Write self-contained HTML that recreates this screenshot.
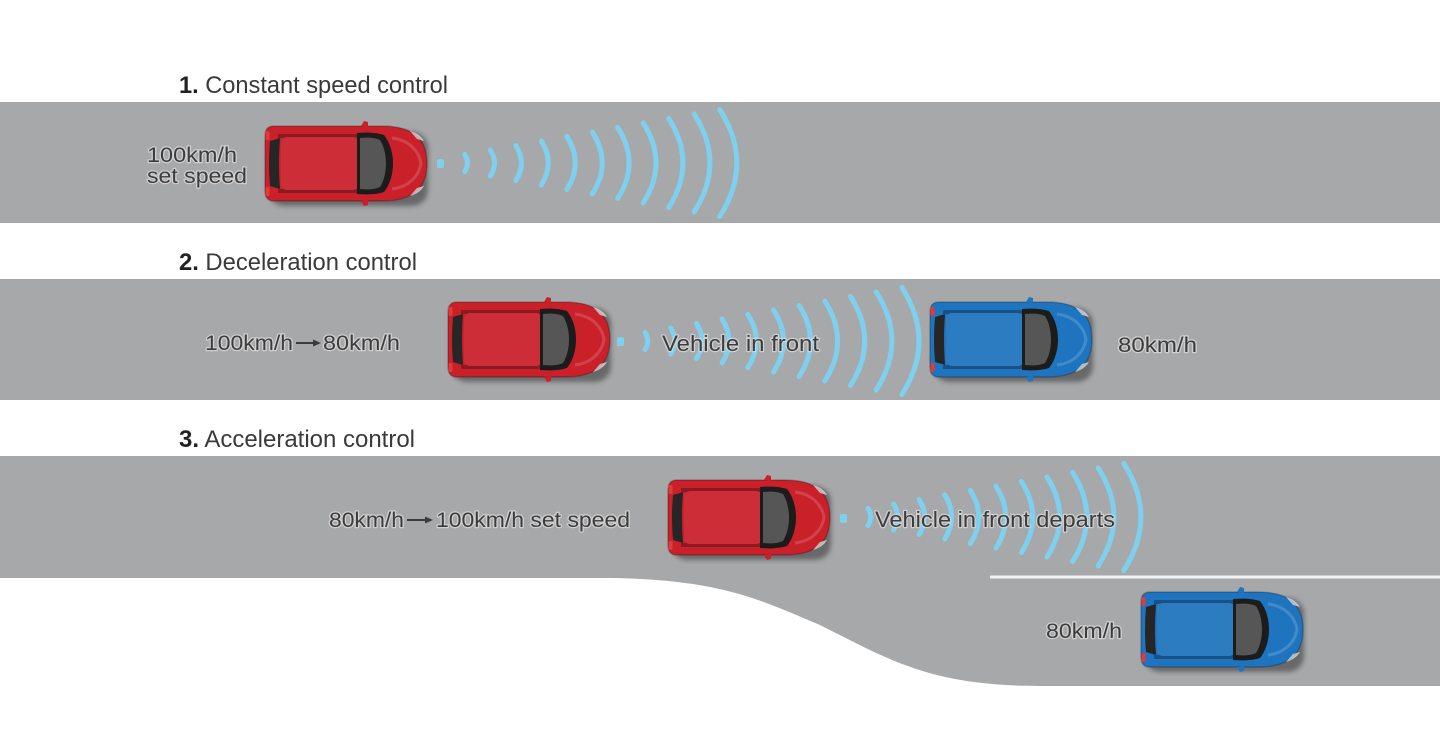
<!DOCTYPE html>
<html>
<head>
<meta charset="utf-8">
<style>
  html,body{margin:0;padding:0;background:#fff;}
  svg{display:block;}
  text{font-family:"Liberation Sans",Arial,sans-serif;}
  .h{font-size:24px;fill:#3a3a3a;}
  .l{fill:#3c3c3c;stroke:#dcdcdc;stroke-width:2.4px;stroke-opacity:.75;paint-order:stroke;stroke-linejoin:round;}
  .w{fill:none;stroke:#7fd0ef;stroke-width:5;stroke-linecap:round;}
</style>
</head>
<body>
<svg width="1440" height="745" viewBox="0 0 1440 745" xmlns="http://www.w3.org/2000/svg">
  <defs>
    <filter id="blur" x="-20%" y="-20%" width="140%" height="140%"><feGaussianBlur stdDeviation="2.5"/></filter>
    <g id="car">
      <rect x="4" y="7" width="160" height="74" rx="16" fill="#1a1a1a" opacity=".45" filter="url(#blur)"/>
      <path d="M10,1 H118 C148,1 163,13 163,38.5 C163,64 148,76 118,76 H10 Q1,76 1,66 V11 Q1,1 10,1 Z" fill="currentColor"/>
      <path d="M10,1 H118 C148,1 163,13 163,38.5 C163,64 148,76 118,76 H10 Q1,76 1,66 V11 Q1,1 10,1 Z" fill="none" stroke="#000" stroke-opacity=".22" stroke-width="1.5"/>
      <path d="M6,16 Q4,38.5 6,61 L16,64 Q14,38.5 16,13 Z" fill="#262626"/>
      <rect x="14" y="9" width="82" height="4" fill="#111" opacity=".35"/>
      <rect x="14" y="64" width="82" height="4" fill="#111" opacity=".35"/>
      <rect x="17" y="12" width="78" height="53" rx="6" fill="currentColor"/>
      <rect x="17" y="12" width="78" height="53" rx="6" fill="#fff" opacity=".06"/>
      <path d="M93,8 C104,7 114,8 120,10 C132,25 132,52 120,67 C114,69 104,70 93,69 Z" fill="#1c1c1c"/>
      <path d="M96,13 C105,12 112,13 116,15 C124,28 124,49 116,62 C112,64 105,65 96,64 Z" fill="#565656"/>
      <path d="M128,13 C145,15 155,26 157,38.5 C155,51 145,62 128,64" fill="none" stroke="#fff" stroke-opacity=".16" stroke-width="3"/>
      <path d="M97,1 L100,-4 L104,-3 L104,2 Z" fill="currentColor"/>
      <path d="M97,76 L100,81 L104,80 L104,75 Z" fill="currentColor"/>
      <path d="M146,6 Q156,9 160,16 L153,14 Z" fill="#e6e6e6" opacity=".7"/>
      <path d="M146,71 Q156,68 160,61 L153,63 Z" fill="#e6e6e6" opacity=".7"/>
      <rect x="1.5" y="6" width="4" height="9" rx="1.5" fill="#e03a3a"/>
      <rect x="1.5" y="62" width="4" height="9" rx="1.5" fill="#e03a3a"/>
    </g>
    <path id="a1" class="w" d="M0,-8.5Q5.4,0 0,8.5"/>
    <path id="a2" class="w" d="M0,-13Q8.4,0 0,13"/>
    <path id="a3" class="w" d="M0,-17.5Q11.2,0 0,17.5"/>
    <path id="a4" class="w" d="M0,-22Q14,0 0,22"/>
    <path id="a5" class="w" d="M0,-26.5Q17,0 0,26.5"/>
    <path id="a6" class="w" d="M0,-31Q19.8,0 0,31"/>
    <path id="a7" class="w" d="M0,-35.5Q22.8,0 0,35.5"/>
    <path id="a8" class="w" d="M0,-40Q25.6,0 0,40"/>
    <path id="a9" class="w" d="M0,-44.5Q28.4,0 0,44.5"/>
    <path id="a10" class="w" d="M0,-49Q31.4,0 0,49"/>
    <path id="a11" class="w" d="M0,-53.5Q34.2,0 0,53.5"/>
  </defs>

  <!-- Roads -->
  <rect x="0" y="102" width="1440" height="121" fill="#a7a8aa"/>
  <rect x="0" y="279" width="1440" height="121" fill="#a7a8aa"/>
  <path d="M0,456 H1440 V686 H1040 C930,686 890,660 820,625 C760,600 720,578 600,578 H0 Z" fill="#a7a8aa"/>
  <rect x="990" y="575.5" width="450" height="3" fill="#f2f2f2"/>

  <!-- Headings -->
  <text class="h" x="179" y="93" textLength="269" lengthAdjust="spacingAndGlyphs"><tspan font-weight="bold" fill="#222">1.</tspan> Constant speed control</text>
  <text class="h" x="179" y="270" textLength="238" lengthAdjust="spacingAndGlyphs"><tspan font-weight="bold" fill="#222">2.</tspan> Deceleration control</text>
  <text class="h" x="179" y="447" textLength="236" lengthAdjust="spacingAndGlyphs"><tspan font-weight="bold" fill="#222">3.</tspan> Acceleration control</text>

  <!-- Road 1 waves -->
  <rect x="437" y="159" width="7" height="9" rx="2" fill="#7fd0ef"/>
  <use href="#a1" x="464.8" y="163"/>
  <use href="#a2" x="490.3" y="163"/>
  <use href="#a3" x="515.8" y="163"/>
  <use href="#a4" x="541.3" y="163"/>
  <use href="#a5" x="566.8" y="163"/>
  <use href="#a6" x="592.3" y="163"/>
  <use href="#a7" x="617.7" y="163"/>
  <use href="#a8" x="643.2" y="163"/>
  <use href="#a9" x="668.7" y="163"/>
  <use href="#a10" x="694.2" y="163"/>
  <use href="#a11" x="719.7" y="163"/>

  <!-- Road 2 waves -->
  <rect x="617" y="337" width="7" height="9" rx="2" fill="#7fd0ef"/>
  <use href="#a1" x="645.1" y="341"/>
  <use href="#a2" x="670.7" y="341"/>
  <use href="#a3" x="696.4" y="341"/>
  <use href="#a4" x="722.1" y="341"/>
  <use href="#a5" x="747.8" y="341"/>
  <use href="#a6" x="773.5" y="341"/>
  <use href="#a7" x="799.1" y="341"/>
  <use href="#a8" x="824.8" y="341"/>
  <use href="#a9" x="850.5" y="341"/>
  <use href="#a10" x="876.2" y="341"/>
  <use href="#a11" x="901.9" y="341"/>

  <!-- Road 3 waves -->
  <rect x="840" y="514" width="7" height="9" rx="2" fill="#7fd0ef"/>
  <use href="#a1" x="868" y="517"/>
  <use href="#a2" x="893.5" y="517"/>
  <use href="#a3" x="919.1" y="517"/>
  <use href="#a4" x="944.7" y="517"/>
  <use href="#a5" x="970.3" y="517"/>
  <use href="#a6" x="995.9" y="517"/>
  <use href="#a7" x="1021.4" y="517"/>
  <use href="#a8" x="1047" y="517"/>
  <use href="#a9" x="1072.6" y="517"/>
  <use href="#a10" x="1098.2" y="517"/>
  <use href="#a11" x="1123.8" y="517"/>

  <!-- Cars -->
  <use href="#car" x="264" y="125" style="color:#c9202a"/>
  <use href="#car" x="447" y="301" style="color:#c9202a"/>
  <use href="#car" x="929" y="301" style="color:#1f74bf"/>
  <use href="#car" x="667" y="479" style="color:#c9202a"/>
  <use href="#car" x="1140" y="591" style="color:#1f74bf"/>

  <!-- Labels road 1 -->
  <text class="l" x="147" y="162" font-size="21" textLength="90" lengthAdjust="spacingAndGlyphs">100km/h</text>
  <text class="l" x="147" y="183" font-size="21" textLength="100" lengthAdjust="spacingAndGlyphs">set speed</text>

  <!-- Labels road 2 -->
  <text class="l" x="205" y="350" font-size="21" textLength="88" lengthAdjust="spacingAndGlyphs">100km/h</text>
  <line x1="296" y1="343" x2="316" y2="343" stroke="#3c3c3c" stroke-width="2"/>
  <path d="M313,339.5 L321,343 L313,346.5 Z" fill="#3c3c3c"/>
  <text class="l" x="323" y="350" font-size="21" textLength="77" lengthAdjust="spacingAndGlyphs">80km/h</text>
  <text class="l" x="662" y="351" font-size="22" textLength="157" lengthAdjust="spacingAndGlyphs">Vehicle in front</text>
  <text class="l" x="1118" y="352" font-size="21" textLength="79" lengthAdjust="spacingAndGlyphs">80km/h</text>

  <!-- Labels road 3 -->
  <text class="l" x="329" y="527" font-size="21" textLength="75" lengthAdjust="spacingAndGlyphs">80km/h</text>
  <line x1="407" y1="520" x2="428" y2="520" stroke="#3c3c3c" stroke-width="2"/>
  <path d="M425,516.5 L433,520 L425,523.5 Z" fill="#3c3c3c"/>
  <text class="l" x="436" y="527" font-size="21" textLength="194" lengthAdjust="spacingAndGlyphs">100km/h set speed</text>
  <text class="l" x="875" y="527" font-size="22" textLength="240" lengthAdjust="spacingAndGlyphs">Vehicle in front departs</text>
  <text class="l" x="1046" y="638" font-size="21" textLength="76" lengthAdjust="spacingAndGlyphs">80km/h</text>
</svg>
</body>
</html>
